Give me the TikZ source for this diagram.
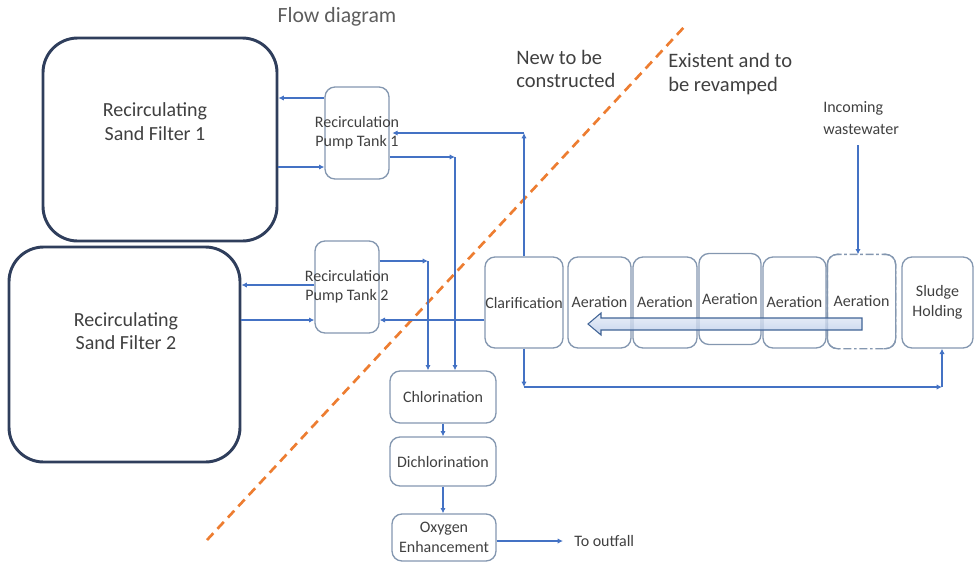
\documentclass[tikz,border=0pt]{standalone}
\usepackage{fontspec}
\setmainfont{Carlito}
\usetikzlibrary{arrows.meta,positioning}
\definecolor{flowblue}{RGB}{68,114,196}
\definecolor{tankline}{RGB}{47,62,92}
\definecolor{boxline}{RGB}{132,151,176}
\definecolor{txtgray}{RGB}{64,64,64}
\definecolor{cutorange}{RGB}{237,125,49}
\definecolor{arrowfill}{RGB}{180,199,231}
\definecolor{arrowline}{RGB}{65,100,150}

\tikzset{
  sandtank/.style={draw=tankline, line width=2.2pt, rounded corners=26pt},
  bigtext/.style={align=center, text=txtgray, inner sep=0pt, font=\fontsize{15}{17.5}\selectfont},
  unitbox/.style={draw=boxline, line width=1pt, rounded corners=7.5pt, inner sep=0pt,
    align=center, text=txtgray, font=\fontsize{12}{15}\selectfont},
  tanklabel/.style={align=center, text=txtgray, inner sep=0pt, font=\fontsize{12}{14.3}\selectfont},
  note/.style={align=left, text=txtgray, inner sep=0pt, font=\fontsize{15.4}{17.3}\selectfont},
  flow/.style={draw=flowblue, line width=0.9pt, -{Latex[length=4pt,width=4pt]}},
}

\begin{document}
\begin{tikzpicture}[x=0.75pt,y=-0.75pt]
  \useasboundingbox (0,0) rectangle (974,565);

  % Title
  \node[font=\fontsize{16.3}{19}\selectfont, text=txtgray!85] (title) at (337,17) {Flow diagram};

  % Sand filters
  \node[sandtank, minimum width=175.5pt, minimum height=152.25pt] (rsf1) at (160,139.5) {};
  \node[bigtext] (rsf1txt) at (155,121.5) {Recirculating\\Sand Filter 1};
  \node[sandtank, minimum width=173.25pt, minimum height=161.25pt] (rsf2) at (124.5,354.5) {};
  \node[bigtext] (rsf2txt) at (126,331) {Recirculating\\Sand Filter 2};

  % Pump tanks (label wider than the box)
  \node[unitbox, minimum width=48pt, minimum height=69pt,
    label={[tanklabel]center:Recirculation\\Pump Tank 1}] (pt1) at (357,133) {};
  \node[unitbox, minimum width=48pt, minimum height=69pt,
    label={[tanklabel]center:Recirculation\\Pump Tank 2}] (pt2) at (347,287) {};

  % Existing line of basins
  \node[unitbox, minimum width=58.5pt, minimum height=68.25pt] (clar) at (524,302.5) {Clarification};
  \foreach \n/\x/\y/\w in {1/599.5/302.5/47.25, 2/665/302.5/48, 3/730/299/46.5, 4/794.5/302.5/47.25}{
    \node[unitbox, minimum width=\w pt, minimum height=68.25pt] (aer\n) at (\x,\y) {Aeration};
  }
  \node[unitbox, draw=none, minimum width=50.25pt, minimum height=69.75pt] (aer5) at (861.5,301.5) {Aeration};
  \draw[boxline, line width=1pt, rounded corners=7.5pt, dash pattern=on 6pt off 2pt on 2pt off 2pt]
    (aer5.north west) rectangle (aer5.south east);
  \draw[boxline, line width=1pt, rounded corners=7.5pt]
    ([xshift=9pt]aer5.north west) -- (aer5.north west) -- (aer5.south west) -- ([xshift=9pt]aer5.south west);
  \draw[boxline, line width=1pt, rounded corners=7.5pt]
    ([xshift=-9pt]aer5.north east) -- (aer5.north east) -- (aer5.south east) -- ([xshift=-9pt]aer5.south east);
  \node[unitbox, minimum width=53.25pt, minimum height=68.25pt] (sludge) at (937.5,302.5) {Sludge\\Holding};

  % Process direction
  \draw[arrowline, line width=0.8pt, top color=arrowfill!35, bottom color=arrowfill, fill opacity=0.75]
    (862,318) -- (601,318) -- (601,313) -- (588,324) -- (601,335) -- (601,330) -- (862,330) -- cycle;

  % New units
  \node[unitbox, minimum width=79.5pt, minimum height=39pt] (chlor) at (443,397) {Chlorination};
  \node[unitbox, minimum width=79.5pt, minimum height=36.75pt] (dechl) at (443,461.5) {Dichlorination};
  \node[unitbox, minimum width=78pt, minimum height=35.25pt] (oxy) at (444,537.5) {Oxygen\\Enhancement};

  % Boundary new / existing
  \draw[cutorange, line width=2pt, dash pattern=on 7pt off 4.5pt] (207,540) -- (686,25);
  \node[note, anchor=west] (newtxt) at (516,68.5) {New to be\\constructed};
  \node[note, anchor=west] (oldtxt) at (668,74) {Existent and to\\be revamped};

  % Sand filter loops
  \draw[flow] (pt1.west |- 0,98) -- (rsf1.east |- 0,98);
  \draw[flow] (rsf1.east |- 0,167) -- (pt1.west |- 0,167);
  \draw[flow] (pt2.west |- 0,285) -- (rsf2.east |- 0,285);
  \draw[flow] (rsf2.east |- 0,320) -- (pt2.west |- 0,320);

  % Clarifier to pump tanks
  \coordinate (up1) at (clar.north |- 0,133);
  \draw[flow] (clar.north) -- (up1);
  \draw[flow] (up1) -- ([xshift=2pt]pt1.east |- up1);
  \draw[flow] (clar.west |- 0,320) -- (pt2.east |- 0,320);

  % Pump tanks to chlorination
  \coordinate (dn1) at (455,157);
  \draw[flow] (pt1.east |- dn1) -- (dn1);
  \draw[flow] (dn1) -- (dn1 |- chlor.north);
  \coordinate (dn2) at (428,261);
  \draw[flow] (pt2.east |- dn2) -- (dn2);
  \draw[flow] (dn2) -- (dn2 |- chlor.north);

  % Disinfection train
  \draw[flow] (chlor.south) -- (dechl.north);
  \draw[flow] (dechl.south) -- (dechl.south |- oxy.north);
  \coordinate (outfall) at (563,541);
  \draw[flow] (oxy.east |- outfall) -- (outfall);
  \node[anchor=west, text=txtgray, font=\fontsize{12}{15}\selectfont] (outtxt) at ([xshift=5pt]outfall) {To outfall};

  % Sludge line
  \coordinate (sl1) at (clar.south |- 0,387);
  \coordinate (sl2) at (942,387);
  \draw[flow] (clar.south) -- (sl1);
  \draw[flow] (sl1) -- (sl2);
  \draw[flow] (sl2) -- (sl2 |- sludge.south);

  % Incoming wastewater
  \node[anchor=north west, align=left, inner sep=0pt, text=txtgray,
    font=\fontsize{12}{16.5}\selectfont] (inctxt) at (823,101) {Incoming\\wastewater};
  \coordinate (inc) at (858,145);
  \draw[flow] (inc) -- (inc |- aer5.north);
\end{tikzpicture}
\end{document}
